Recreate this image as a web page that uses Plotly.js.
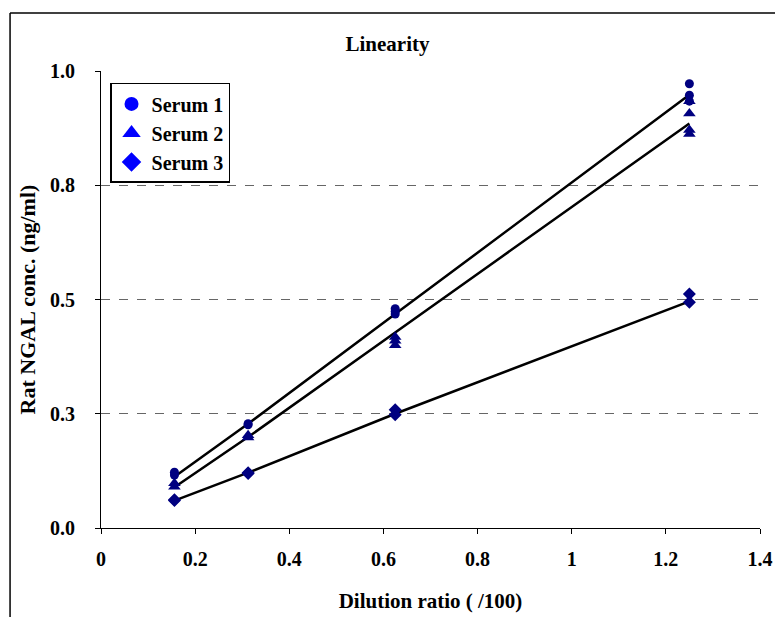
<!DOCTYPE html>
<html>
<head>
<meta charset="utf-8">
<script src="https://cdn.plot.ly/plotly-3.0.1.min.js"></script>
<style>html,body{margin:0;padding:0;background:#fff;}#chart{width:775px;height:617px;}</style>
</head>
<body>
<div id="chart"></div>
<script>
// Dilution ratios (/100)
const dilution = [0.156, 0.3125, 0.625, 1.25];

// Replicate measurements (ng/ml)
const serum1X = [0.156, 0.156, 0.3125, 0.3125, 0.625, 0.625, 0.625, 1.25, 1.25, 1.25];
const serum1Y = [0.122, 0.116, 0.228, 0.226, 0.480, 0.474, 0.468, 0.972, 0.947, 0.934];
const serum2X = [0.156, 0.156, 0.3125, 0.3125, 0.625, 0.625, 0.625, 1.25, 1.25, 1.25, 1.25];
const serum2Y = [0.098, 0.090, 0.203, 0.198, 0.418, 0.410, 0.400, 0.934, 0.907, 0.871, 0.862];
const serum3X = [0.156, 0.156, 0.3125, 0.3125, 0.625, 0.625, 1.25, 1.25];
const serum3Y = [0.060, 0.062, 0.121, 0.119, 0.259, 0.248, 0.512, 0.494];

// Fitted lines
const fit1 = [0.112, 0.228, 0.468, 0.948];
const fit2 = [0.089, 0.199, 0.428, 0.885];
const fit3 = [0.060, 0.121, 0.250, 0.496];

// Labels
const seriesNames = ['Serum 1', 'Serum 2', 'Serum 3'];
const yTickVals = [0, 0.25, 0.5, 0.75, 1.0];
const yTickText = ['0.0', '0.3', '0.5', '0.8', '1.0'];
const xTickVals = [0, 0.2, 0.4, 0.6, 0.8, 1, 1.2, 1.4];
const xTickText = ['0', '0.2', '0.4', '0.6', '0.8', '1', '1.2', '1.4'];

const FONT = 'Liberation Serif, Times New Roman, serif';
const navy = '#000080';
const blue = '#0000FF';
const symbols = ['circle', 'triangle-up', 'diamond'];
const dataSizes = [9, 11, 10];
const legendSizes = [14, 16, 15];

const lineStyle = {color: '#000', width: 2.5};
const traces = [
  {x: dilution, y: fit1, mode: 'lines', line: lineStyle, showlegend: false, hoverinfo: 'skip'},
  {x: dilution, y: fit2, mode: 'lines', line: lineStyle, showlegend: false, hoverinfo: 'skip'},
  {x: dilution, y: fit3, mode: 'lines', line: lineStyle, showlegend: false, hoverinfo: 'skip'},
  {x: serum1X, y: serum1Y, mode: 'markers', marker: {symbol: symbols[0], color: navy, size: dataSizes[0]}, showlegend: false},
  {x: serum2X, y: serum2Y, mode: 'markers', marker: {symbol: symbols[1], color: navy, size: dataSizes[1]}, showlegend: false},
  {x: serum3X, y: serum3Y, mode: 'markers', marker: {symbol: symbols[2], color: navy, size: dataSizes[2]}, showlegend: false}
];
seriesNames.forEach((n, i) => {
  traces.push({x: [null], y: [null], name: '<b>' + n + '</b>', mode: 'markers',
    marker: {symbol: symbols[i], color: blue, size: legendSizes[i]}, showlegend: true});
});

const layout = {
  width: 775, height: 617,
  margin: {l: 101, r: 15, t: 71, b: 89},
  paper_bgcolor: '#fff', plot_bgcolor: '#fff',
  font: {family: FONT, color: '#000', size: 20},
  title: {text: '<b>Linearity</b>', x: 0.5, xref: 'container', xanchor: 'center',
          y: 1 - 44/617, yref: 'container', yanchor: 'middle',
          font: {family: FONT, size: 21, color: '#000'}},
  xaxis: {
    range: [0, 1.4], tickvals: xTickVals, ticktext: xTickText.map(t => '<b>' + t + '</b>'),
    showgrid: false, zeroline: false, showline: true, linecolor: '#000', linewidth: 1,
    ticks: 'outside', ticklen: 5, tickcolor: '#000', tickfont: {family: FONT, size: 20},
    ticklabelstandoff: 8,
    title: {text: '<b>Dilution ratio ( /100)</b>', font: {family: FONT, size: 21}, standoff: 24}
  },
  yaxis: {
    range: [0, 1.0], tickvals: yTickVals, ticktext: yTickText.map(t => '<b>' + t + '</b>'),
    showgrid: true, gridcolor: '#666', griddash: 'dash', gridwidth: 1,
    zeroline: false, showline: true, linecolor: '#000', linewidth: 1,
    ticks: 'outside', ticklen: 5, tickcolor: '#000', tickfont: {family: FONT, size: 20},
    ticklabelstandoff: 16,
    title: {text: '<b>Rat NGAL conc. (ng/ml)</b>', font: {family: FONT, size: 22}, standoff: 8}
  },
  legend: {
    x: 0.0137, y: 0.974, xanchor: 'left', yanchor: 'top',
    bordercolor: '#000', borderwidth: 1.5, bgcolor: '#fff',
    font: {family: FONT, size: 20, color: '#000'},
    tracegroupgap: 0, itemwidth: 30
  },
  shapes: [
    {type: 'line', xref: 'paper', yref: 'paper', x0: -0.138, x1: -0.138, y0: -0.2, y1: 1.127,
     line: {color: '#000', width: 1.5}},
    {type: 'line', xref: 'paper', yref: 'paper', x0: -0.138, x1: 1.03, y0: 1.127, y1: 1.127,
     line: {color: '#000', width: 1.5}}
  ]
};

Plotly.newPlot('chart', traces, layout, {displayModeBar: false, staticPlot: true});
</script>
</body>
</html>
